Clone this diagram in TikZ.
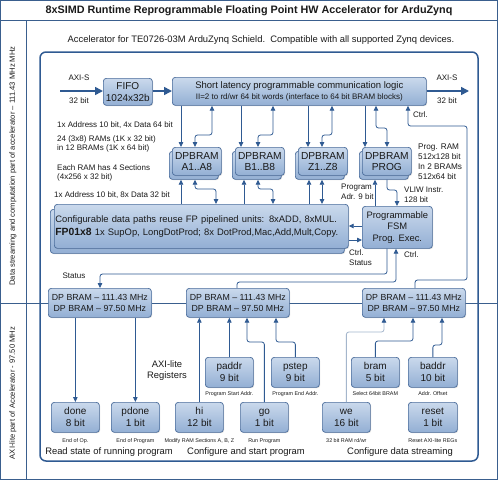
\documentclass[tikz,border=0pt]{standalone}
\usepackage{fontspec}
\setmainfont{Liberation Sans}
\usetikzlibrary{arrows.meta,shadows}
\definecolor{frame}{HTML}{3A5F8E}
\definecolor{ln}{HTML}{2F5A92}
\definecolor{bxt}{HTML}{CAD9EC}
\definecolor{bxb}{HTML}{93AFD4}
\definecolor{bxd}{HTML}{4A6C9B}
\definecolor{txt}{HTML}{1A1A1A}
\definecolor{lightln}{HTML}{A4B6CC}
\begin{document}
\begin{tikzpicture}[x=1pt,y=-1pt,
  every node/.style={text=txt},
  box/.style={draw=bxd, line width=0.7pt, rounded corners=3pt, top color=bxt, bottom color=bxb,
    align=center, inner sep=0pt, anchor=north west,
    drop shadow={shadow xshift=0.8pt, shadow yshift=-0.8pt, opacity=0.3}},
  dpb/.style={box, minimum width=49pt, minimum height=28pt, font=\fontsize{10.2}{11}\selectfont},
  dp/.style={box, minimum width=103pt, minimum height=29pt, font=\fontsize{8.8}{11}\selectfont},
  reg/.style={box, minimum width=48pt, minimum height=30pt, font=\fontsize{10}{12}\selectfont},
  con/.style={draw=ln, line width=0.8pt, rounded corners=2.5pt},
  arr/.style={con, -{Triangle[length=5pt,width=4.5pt]}},
  darr/.style={con, {Triangle[length=5pt,width=4.5pt]}-{Triangle[length=5pt,width=4.5pt]}},
  bigarr/.style={draw=ln, line width=1.6pt, -{Triangle[length=8pt,width=8pt]}},
  lbl/.style={font=\fontsize{8}{9.8}\selectfont, align=left, inner sep=0pt},
  capt/.style={font=\fontsize{5.4}{6}\selectfont, inner sep=0pt},
  big/.style={font=\fontsize{9.4}{11}\selectfont, inner sep=0pt, align=center},
]
\path[use as bounding box] (0,0) rectangle (498,480);
% frames
\draw[draw=frame, line width=1pt] (0.5,0.5) rectangle (497.5,479.5);
\draw[draw=frame, line width=0.8pt] (0,20) -- (498,20);
\draw[draw=frame, line width=0.8pt] (26,20) -- (26,480);
\node[font=\bfseries\fontsize{10.8}{12}\selectfont, inner sep=0pt] (title) at (249,10.5)
  {8xSIMD Runtime Reprogrammable Floating Point HW Accelerator for ArduZynq};
\node[rotate=90, font=\fontsize{7.6}{8}\selectfont, inner sep=0pt] (vl1) at (13,166)
  {Data streaming and computation part of accelerator – 111.43 MHz MHz};
\node[rotate=90, font=\fontsize{7.6}{8}\selectfont, inner sep=0pt] (vl2) at (13,393)
  {AXI-lite part of Accelerator - 97.50 MHz};
\node[font=\fontsize{9.4}{10}\selectfont, inner sep=0pt] (sub) at (261,40)
  {Accelerator for TE0726-03M ArduZynq Schield.\ \ Compatible with all supported Zynq devices.};
% big region
\draw[draw=ln, line width=1.5pt, rounded corners=6pt, fill=white] (40,52) rectangle (478,461);
\draw[draw=frame, line width=0.8pt] (0,303) -- (498,303);

% top row
\node[box, minimum width=49pt, minimum height=27pt, font=\fontsize{10}{11.5}\selectfont] (fifo) at (103,78) {FIFO\\1024x32b};
\node[box, minimum width=254pt, minimum height=28pt] (comm) at (172,77)
  {{\fontsize{9.5}{11}\selectfont Short latency programmable communication logic}\\[-1pt]
   {\fontsize{8}{9}\selectfont II=2 to rd/wr 64 bit words (interface to 64 bit BRAM blocks)}};
\coordinate (axiin) at (60,91);
\coordinate (axiout) at (469,91);
\draw[bigarr] (axiin) -- (fifo.west |- axiin);
\draw[bigarr] (fifo.east |- axiin) -- (comm.west |- axiin);
\draw[bigarr] (comm.east |- axiout) -- (axiout);
\node[lbl] (axs1) at (79,78) {AXI-S};
\node[lbl] (axb1) at (79,101) {32 bit};
\node[lbl] (axs2) at (447,78) {AXI-S};
\node[lbl] (axb2) at (447,101) {32 bit};

% DPBRAMs
\node[dpb] (Ab) at (169,151) {};
\node[dpb] (A) at (172,147) {DPBRAM\\A1..A8};
\node[dpb] (Bb) at (232,151) {};
\node[dpb] (B) at (235,147) {DPBRAM\\B1..B8};
\node[dpb] (Zb) at (295,151) {};
\node[dpb] (Z) at (298,147) {DPBRAM\\Z1..Z8};
\node[dpb] (Pb) at (359,151) {};
\node[dpb] (P) at (362,147) {DPBRAM\\PROG};

% left notes
\node[lbl, anchor=west] (l1) at (57,125) {1x Address 10 bit, 4x Data 64 bit};
\node[lbl, anchor=west] (l2) at (57,144) {24 (3x8) RAMs (1K x 32 bit)\\in 12 BRAMs (1K x 64 bit)};
\node[lbl, anchor=west] (l3) at (57,173) {Each RAM has 4 Sections\\(4x256 x 32 bit)};
\node[lbl, anchor=west] (l4) at (54,195) {1x Address 10 bit, 8x Data 32 bit};
\node[lbl, anchor=west, font=\fontsize{8.2}{10}\selectfont] (pr) at (418,162) {Prog. RAM\\512x128 bit\\In 2 BRAMs\\512x64 bit};

% configurable box
\node[box, minimum width=294pt, minimum height=44pt] (confb) at (50,209) {};
\node[box, minimum width=294pt, minimum height=44pt, text width=292pt, inner xsep=1pt, align=left,
  font=\fontsize{9.4}{12.5}\selectfont] (conf) at (54,204)
  {Configurable data paths reuse FP pipelined units: 8xADD, 8xMUL.\\
   {\bfseries\fontsize{10.4}{12.5}\selectfont FP01x8} 1x SupOp, LongDotProd; 8x DotProd,Mac,Add,Mult,Copy.};

% FSM
\node[box, minimum width=70pt, minimum height=42pt, font=\fontsize{9.4}{11.5}\selectfont] (fsm) at (362,206)
  {Programmable\\FSM\\Prog. Exec.};
\node[lbl, anchor=west] (padr) at (341,192) {Program\\Adr. 9 bit};
\node[lbl, anchor=west] (vliw) at (404,195) {VLIW Instr.\\128 bit};
\node[lbl, anchor=west] (cs) at (349,258) {Ctrl.\\Status};
\node[lbl, anchor=west] (c2) at (404,255) {Ctrl.};
\node[lbl, anchor=west] (c1) at (413,115) {Ctrl.};
\node[lbl] (st) at (74,276) {Status};

% DP BRAM clock crossing boxes
\node[dp] (ldp) at (48,288) {DP BRAM – 111.43 MHz\\DP BRAM – 97.50 MHz};
\node[dp] (mdp) at (186,288) {DP BRAM – 111.43 MHz\\DP BRAM – 97.50 MHz};
\node[dp] (rdp) at (362,288) {DP BRAM – 111.43 MHz\\DP BRAM – 97.50 MHz};

% registers
\node[reg] (paddr) at (205,357) {paddr\\9 bit};
\node[reg] (pstep) at (271,357) {pstep\\9 bit};
\node[reg] (bram) at (351,357) {bram\\5 bit};
\node[reg, minimum width=49pt] (baddr) at (408,357) {baddr\\10 bit};
\node[reg] (done) at (51,402) {done\\8 bit};
\node[reg] (pdone) at (111,402) {pdone\\1 bit};
\node[reg] (hi) at (175,402) {hi\\12 bit};
\node[reg] (go) at (240,402) {go\\1 bit};
\node[reg] (we) at (322,402) {we\\16 bit};
\node[reg, minimum width=49pt] (reset) at (408,402) {reset\\1 bit};

\node[capt] (cpaddr) at (paddr.south |- 0,394) {Program Start Addr.};
\node[capt] (cpstep) at (pstep.south |- 0,394) {Program End Addr.};
\node[capt] (cbram) at (bram.south |- 0,394) {Select 64bit BRAM};
\node[capt] (cbaddr) at (baddr.south |- 0,394) {Addr. Offset};
\node[capt] (cdone) at (done.south |- 0,441) {End of Op.};
\node[capt] (cpdone) at (pdone.south |- 0,441) {End of Program};
\node[capt] (chi) at (hi.south |- 0,441) {Modify RAM Sections A, B, Z};
\node[capt] (cgo) at (go.south |- 0,441) {Run Program};
\node[capt] (cwe) at (we.south |- 0,441) {32 bit RAM rd/wr};
\node[capt] (creset) at (reset.south |- 0,441) {Reset AXI-lite REGs};

\node[big] (axil) at (167,370.5) {AXI-lite\\Registers};
\node[big] (t1) at (109,452) {Read state of running program};
\node[big] (t2) at (246,452) {Configure and start program};
\node[big] (t3) at (400,452) {Configure data streaming};

% comm <-> DPBRAM
\draw[arr] (comm.south -| 181,0) -- (A.north -| 181,0);
\draw[darr] (comm.south -| 212,0) -- (212,135) -- (195,135) -- (A.north -| 195,0);
\draw[arr] (comm.south -| 241,0) -- (B.north -| 241,0);
\draw[darr] (comm.south -| 273,0) -- (273,135) -- (258,135) -- (B.north -| 258,0);
\draw[arr] (comm.south -| 308,0) -- (Z.north -| 308,0);
\draw[darr] (comm.south -| 332,0) -- (332,135) -- (322,135) -- (Z.north -| 322,0);
\draw[arr] (comm.south -| 365,0) -- (P.north -| 365,0);
\draw[darr] (comm.south -| 376,0) -- (376,128) -- (387,128) -- (P.north -| 387,0);
% Ctrl from right DP BRAM to comm
\draw[arr] (rdp.north -| 415,0) -- (415,280) -- (467,280) -- (467,126) -- (408,126) -- (comm.south -| 408,0);

% DPBRAM <-> conf
\draw[arr] (conf.north -| 181,0) -- (Ab.south -| 181,0);
\draw[darr] (Ab.south -| 195,0) -- (195,189) -- (216,189) -- (conf.north -| 216,0);
\draw[arr] (conf.north -| 244,0) -- (Bb.south -| 244,0);
\draw[darr] (Bb.south -| 258,0) -- (258,189) -- (273,189) -- (conf.north -| 273,0);
\draw[arr] (conf.north -| 309,0) -- (Zb.south -| 309,0);
\draw[darr] (Zb.south -| 322,0) -- (conf.north -| 322,0);
% PROG <-> FSM
\draw[arr] (fsm.north -| 375,0) -- (Pb.south -| 375,0);
\draw[arr] (Pb.south -| 387,0) -- (387,190) -- (397,190) -- (fsm.north -| 397,0);
% FSM <-> conf
\draw[arr] (fsm.west |- 0,226) -- (conf.east |- 0,226);
\draw[arr] (conf.east |- 0,240) -- (fsm.west |- 0,240);
% Status / Ctrl
\draw[arr] (fsm.south -| 387,0) -- (387,274) -- (100,274) -- (ldp.north -| 100,0);
\draw[arr] (mdp.north -| 237,0) -- (237,282) -- (396,282) -- (fsm.south -| 396,0);

% lower connections
\draw[arr] (ldp.south -| done.north) -- (done.north);
\draw[arr] (ldp.south -| pdone.north) -- (pdone.north);
\draw[arr] (hi.north) -- (mdp.south -| hi.north);
\draw[arr] (paddr.north) -- (mdp.south -| paddr.north);
\draw[arr] (go.north) -- (go.north |- 0,342) -- (247,342) -- (mdp.south -| 247,0);
\draw[arr] (pstep.north) -- (pstep.north |- 0,342) -- (276,342) -- (mdp.south -| 276,0);
\draw[con, draw=lightln, -{Triangle[length=5pt,width=4.5pt,color=ln]}] (we.north) -- (we.north |- 0,332) -- (384,332) -- (rdp.south -| 384,0);
\draw[arr] (bram.north) -- (bram.north |- 0,341) -- (413,341) -- (rdp.south -| 413,0);
\draw[arr] (baddr.north) -- (baddr.north |- 0,345) -- (442,345) -- (rdp.south -| 442,0);
\end{tikzpicture}
\end{document}
